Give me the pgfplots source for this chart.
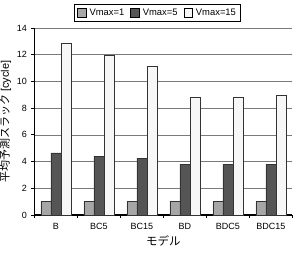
\documentclass[border=0pt]{standalone}
\usepackage{pgfplots}
\pgfplotsset{compat=1.18}
\usepackage{fontspec}
\setmainfont{Liberation Sans}
\newfontfamily\jp{Noto Sans CJK JP}

\definecolor{vone}{HTML}{A6A6A6}
\definecolor{vfive}{HTML}{555555}
\definecolor{vfifteen}{HTML}{F7F7F7}
\definecolor{gridgray}{HTML}{7A7A7A}

\begin{document}
\begin{tikzpicture}
\useasboundingbox (-34.5pt,-39pt) rectangle (260.5pt,215pt);
\begin{axis}[
  scale only axis,
  width=258pt, height=187pt,
  xmin=-0.5, xmax=5.5,
  ymin=0, ymax=14,
  ytick={0,2,...,14},
  xtick={0,...,5},
  xticklabels={B,BC5,BC15,BD,BDC5,BDC15},
  major x tick style={draw=none},
  minor xtick={-0.5,0.5,...,5.5},
  minor x tick style={black, line width=0.8pt},
  minor tick length=3pt,
  major tick length=3pt,
  tick align=outside,
  y tick style={black, line width=0.8pt},
  axis x line*=bottom,
  axis y line*=left,
  axis line style={black, line width=1.4pt, -},
  ymajorgrids,
  major grid style={gridgray, line width=0.7pt},
  ybar,
  bar width=0.235,
  tick label style={font=\fontsize{9}{10}\selectfont},
  /pgf/number format/assume math mode=true,
  xticklabel style={yshift=-2pt},
  yticklabel style={xshift=-1pt},
  xlabel={\jp モデル},
  xlabel style={font=\fontsize{11.5}{13}\selectfont, yshift=1pt},
  ylabel={\jp 平均予測スラック\rmfamily\ [cycle]},
  ylabel style={font=\fontsize{11}{13}\selectfont, yshift=-1pt},
  legend style={at={(0.477,1.08)}, anchor=center, legend columns=-1,
    draw=black, line width=0.6pt, font=\fontsize{9.4}{11}\selectfont,
    inner sep=2.5pt, column sep=4pt,
    /tikz/every odd column/.style={column sep=1.5pt}},
  legend image code/.code={\draw[#1, draw=black, line width=0.4pt] (0cm,-0.14cm) rectangle (0.3cm,0.16cm);},
  clip=false,
]
\addplot[ybar, bar shift=-0.235, fill=vone, draw=black!80, line width=0.5pt]
  coordinates {(0,1.0) (1,1.0) (2,1.0) (3,1.0) (4,1.0) (5,1.0)};
\addplot[ybar, bar shift=0, fill=vfive, draw=black!80, line width=0.5pt]
  coordinates {(0,4.66) (1,4.41) (2,4.26) (3,3.79) (4,3.79) (5,3.79)};
\addplot[ybar, bar shift=0.235, fill=vfifteen, draw=black!80, line width=0.5pt]
  coordinates {(0,12.84) (1,11.95) (2,11.15) (3,8.78) (4,8.85) (5,8.93)};
\legend{Vmax=1,Vmax=5,Vmax=15}
\end{axis}
\end{tikzpicture}
\end{document}
